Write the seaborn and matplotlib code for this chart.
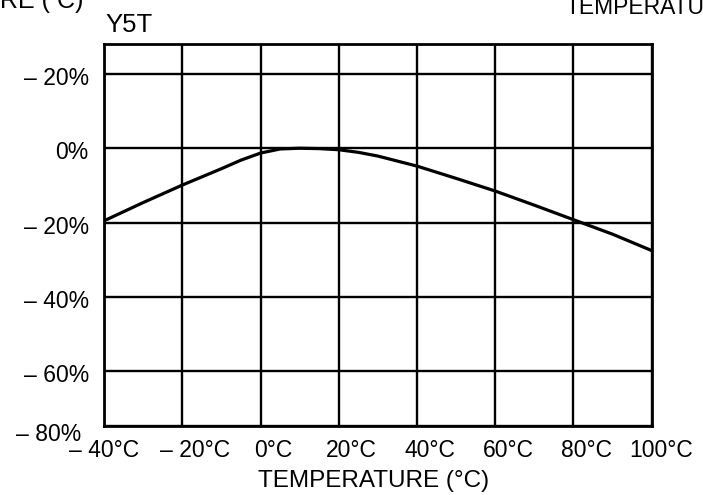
import matplotlib
matplotlib.use("Agg")
import matplotlib.pyplot as plt
import matplotlib.transforms as mtransforms
import seaborn as sns
import pandas as pd

# curve (Y5T dielectric)
temps = [-40, -30, -20, -10, -5, 0, 5, 10, 15, 20, 25, 30, 40, 50, 60, 70, 80, 90, 100]
change = [-19.5, -14.6, -9.9, -5.5, -3.2, -1.3, -0.2, 0.0, -0.1, -0.4, -1.1, -2.1,
          -4.8, -8.1, -11.5, -15.3, -19.2, -23.1, -27.5]

x_ticks = [-40, -20, 0, 20, 40, 60, 80, 100]
x_labels = ["– 40°C", "– 20°C", "0°C", "20°C", "40°C", "60°C", "80°C", "100°C"]
y_ticks = [20, 0, -20, -40, -60, -74.7]
y_labels = ["– 20%", "0%", "– 20%", "– 40%", "– 60%", "– 80%"]

df = pd.DataFrame({"temp": temps, "change": change})

sns.set_theme(style="white")
plt.rcParams["font.family"] = ["Liberation Sans", "DejaVu Sans"]

fig = plt.figure(figsize=(7.03, 4.95), dpi=100)
ax = fig.add_axes([0.148, 0.139, 0.779, 0.772])

sns.lineplot(data=df, x="temp", y="change", color="black", linewidth=2.3, ax=ax)

ax.set_xlim(-40, 100)
ax.set_ylim(-74.7, 28)
ax.set_xticks(x_ticks)
ax.set_xticklabels(x_labels, fontsize=16.5)
ax.set_yticks(y_ticks)
ax.set_yticklabels(y_labels, fontsize=16.5)
ax.tick_params(axis="y", length=0, pad=11, colors="black")
ax.tick_params(axis="x", length=0, pad=9, colors="black")
ax.grid(True, color="black", linewidth=1.7)
for s in ax.spines.values():
    s.set_color("black")
    s.set_linewidth(2.0)

def nudge(label, dx, dy):
    off = mtransforms.ScaledTranslation(dx / 100, dy / 100, fig.dpi_scale_trans)
    label.set_transform(label.get_transform() + off)

# the printed labels sit a little off their grid lines in the original
for lab in ax.get_yticklabels()[:-1]:
    nudge(lab, 0, -2)
nudge(ax.get_yticklabels()[-1], -8, -6)
xl = ax.get_xticklabels()
for lab in xl[1:-1]:
    nudge(lab, 13, 0)
nudge(xl[-1], 9, 0)

ax.set_xlabel("TEMPERATURE (°C)", fontsize=17.5, color="black", labelpad=6)
ax.xaxis.label.set_x(0.493)
ax.set_ylabel("")

fig.text(0.150, 0.935, "Y5T", fontsize=18.5, color="black")
fig.text(0.0, 0.974, "RE ( C)", fontsize=18, color="black", va="bottom")
fig.text(0.805, 0.962, "TEMPERATURE", fontsize=16.5, color="black", va="bottom")

fig.savefig("out.png", dpi=100)
